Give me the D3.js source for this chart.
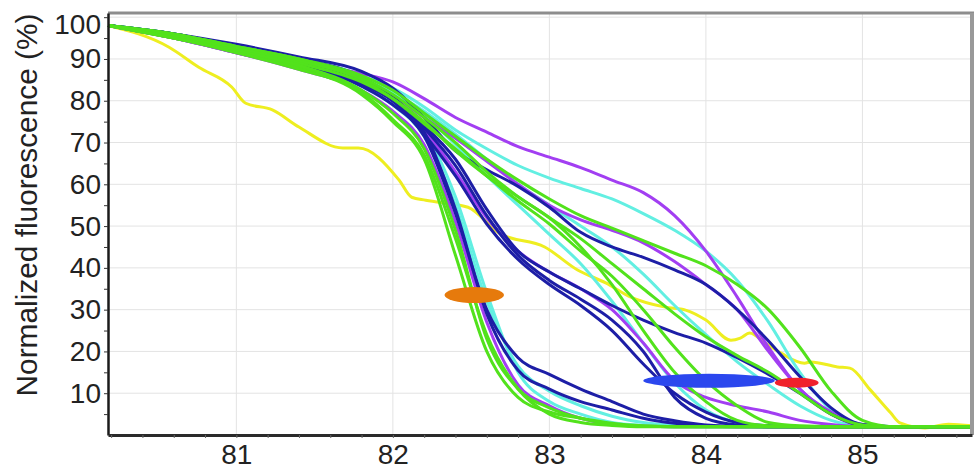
<!DOCTYPE html>
<html>
<head>
<meta charset="utf-8">
<script src="https://cdn.jsdelivr.net/npm/d3@7"></script>
<style>
  html, body { margin: 0; padding: 0; background: #fff; }
  svg { display: block; font-family: "Liberation Sans", Arial, sans-serif; }
</style>
</head>
<body>
<svg id="chart" width="974" height="469"></svg>
<script>
// Melt curves: normalized fluorescence vs temperature.

// Temperature grid shared by the melt curves.
const temps = [80.18, 80.6, 81.0, 81.4, 81.8, 82.0, 82.2, 82.4, 82.6, 82.8, 83.0, 83.2,
               83.4, 83.6, 83.8, 84.0, 84.2, 84.4, 84.6, 84.8, 85.0, 85.2, 85.4, 85.7];

// Each curve: colour group + values on the temps grid.
const curveColors = ["purple", "cyan", "green", "navy", "purple",
                     "navy", "navy", "navy", "purple",
                     "green", "green", "cyan", "cyan", "green",
                     "green", "green", "navy", "navy", "cyan", "cyan", "purple", "green"];

const curveValues = [
  // late melting group
  [98, 95, 92, 89, 86.5, 84.5, 80.5, 76, 72.5, 69, 66.5, 64, 61, 58, 52.5, 44, 33, 21, 11, 5.5, 2.5, 2, 2, 2],
  [98, 95.5, 92.5, 90, 86, 83, 78.5, 73, 68.5, 64.5, 61.5, 59, 56.5, 53, 49, 44, 37, 27, 15, 6, 2.5, 2, 2, 2],
  [98, 96, 93, 90, 86, 82.5, 77, 71.5, 66, 61, 56.5, 52.5, 49.5, 46.5, 43.5, 40.5, 36, 30, 21, 10.5, 3.5, 2, 2, 2],
  [98, 96, 93.5, 90.5, 87, 83, 76, 68, 63.5, 59.5, 54.5, 48.5, 45, 42.5, 39.5, 36, 30, 22.5, 14, 6.5, 2.5, 2, 2, 2],
  [98, 95, 91.5, 88, 84.5, 81, 76, 71, 65.5, 60, 55, 51.5, 49, 46, 41.5, 36, 30, 20, 11, 5, 2.3, 2, 2, 2],
  // shoulder group
  [98, 96, 93, 90, 85.5, 80, 74, 66, 54, 44, 39, 35, 31, 27.5, 24.5, 22, 18.5, 14.5, 10, 5, 2.3, 2, 2, 2],
  [98, 96, 93, 90, 85.5, 81, 73.5, 64.5, 52.5, 43, 37, 32.5, 27.5, 20, 9, 4, 2.4, 2, 2, 2, 2, 2, 2, 2],
  [98, 95.5, 92.5, 89, 84.5, 80, 72, 62, 50.5, 42, 36, 31, 25, 17, 10, 5.5, 3, 2.2, 2, 2, 2, 2, 2, 2],
  [98, 95, 91.5, 88, 84, 80, 73, 63, 52, 44, 39, 35, 30, 22, 13, 9, 7, 5.5, 3.5, 2.5, 2, 2, 2, 2],
  // middle group
  [98, 96, 93, 90, 85.5, 81.5, 76, 70, 63, 57, 52, 45, 36, 25, 15, 8, 3.5, 2.2, 2, 2, 2, 2, 2, 2],
  [98, 95.5, 92.5, 89.5, 85, 80.5, 74.5, 68.5, 62, 56, 50.5, 44, 38, 30, 21, 13, 7, 3, 2.2, 2, 2, 2, 2, 2],
  [98, 96, 93, 90, 86, 82, 76.5, 69.5, 62, 55, 48, 41, 32, 22, 12.5, 6, 3, 2.2, 2, 2, 2, 2, 2, 2],
  [98, 96, 93, 90, 86, 82, 77.5, 72, 66, 60, 55, 50, 45, 38.5, 31, 24, 17.5, 12, 7, 3.5, 2.2, 2, 2, 2],
  [98, 95.5, 92.5, 89, 84.5, 80.5, 75, 68, 62, 57, 52, 47, 41, 35, 29, 23.5, 19, 15, 10, 5, 2.4, 2, 2, 2],
  // early (steep) group
  [98, 95, 92, 88, 81.5, 75, 66, 43, 20, 9, 5.5, 4, 2.8, 2.2, 2, 2, 2, 2, 2, 2, 2, 2, 2, 2],
  [98, 95, 92, 88.5, 82.5, 77, 68.5, 49, 23, 11, 6.5, 4, 2.6, 2.1, 2, 2, 2, 2, 2, 2, 2, 2, 2, 2],
  [98, 95.5, 92.5, 89, 83.5, 79, 71.5, 53, 30, 18.5, 14.5, 11, 8, 5, 3.4, 2.4, 2.1, 2, 2, 2, 2, 2, 2, 2],
  [98, 95.5, 92.5, 89, 84, 80, 72.5, 54, 29, 15.5, 11, 8, 6, 4, 2.8, 2.2, 2, 2, 2, 2, 2, 2, 2, 2],
  [98, 95.5, 92.5, 89, 83.5, 79, 71.5, 55, 32, 16.5, 10.5, 7, 4.5, 3, 2.3, 2, 2, 2, 2, 2, 2, 2, 2, 2],
  [98, 96, 93, 89.5, 84.5, 81, 73, 57, 34, 15, 8, 5, 3, 2.3, 2, 2, 2, 2, 2, 2, 2, 2, 2, 2],
  [98, 95, 91.5, 87.5, 82.5, 77.5, 69.5, 51, 27, 12, 7, 4, 2.6, 2.1, 2, 2, 2, 2, 2, 2, 2, 2, 2, 2],
  [98, 95, 91.5, 87.5, 82, 75.5, 67, 47, 24, 11, 5, 3, 2.3, 2, 2, 2, 2, 2, 2, 2, 2, 2, 2, 2]
];

// The odd yellow trace has its own, finer sampling.
const yellowTemps = [80.18, 80.57, 80.76, 80.97, 81.06, 81.23, 81.4, 81.68, 81.78, 82.04, 82.12, 82.21,
                     82.48, 82.68, 82.97, 83.18, 83.36, 83.52, 83.74, 83.87, 84.0, 84.16, 84.22, 84.28,
                     84.38, 84.48, 84.63, 84.67, 84.84, 84.92, 85.05, 85.18, 85.24, 85.4, 85.55, 85.7];
const yellowValues = [98, 92.8, 88, 83.3, 79.4, 77.8, 73.7, 68.7, 68.7, 61, 56.9, 56.2,
                      54.5, 48.3, 45, 39.5, 36.4, 33, 30.6, 29.9, 27.5, 22.7, 23.2, 24.4,
                      22, 19.6, 17.2, 17.5, 16.3, 16, 10.8, 5.3, 2.9, 1.7, 2.6, 2.2];

// Highlight ellipses: centre temperature / value
const markerNames = ["orange", "blue", "red"];
const markerTemps = [82.52, 84.02, 84.58];
const markerValues = [33.5, 13, 12.5];

const palette = {
  purple: "#a23ef2",
  cyan: "#62efe2",
  green: "#52e21c",
  navy: "#1d1ea6",
  yellow: "#eeee20",
  orange: "#e67a0c",
  blue: "#2b47ee",
  red: "#f0222c"
};

const xTicks = [81, 82, 83, 84, 85];
const yTicks = [10, 20, 30, 40, 50, 60, 70, 80, 90, 100];

const svg = d3.select("#chart");
const plotLeft = 108, plotRight = 972, plotTop = 13, plotBottom = 435;

const x = d3.scaleLinear().domain([80.18, 85.7]).range([plotLeft, plotRight]);
const y = d3.scaleLinear().domain([0, 101]).range([plotBottom, plotTop]);

// grid
const grid = svg.append("g");
grid.selectAll(".vg").data(xTicks).join("line")
  .attr("x1", d => x(d)).attr("x2", d => x(d))
  .attr("y1", plotTop).attr("y2", plotBottom)
  .attr("stroke", "#e3e3e3").attr("stroke-width", 1);
grid.selectAll(".hg").data(yTicks).join("line")
  .attr("x1", plotLeft).attr("x2", plotRight)
  .attr("y1", d => y(d)).attr("y2", d => y(d))
  .attr("stroke", "#e3e3e3").attr("stroke-width", 1);

// curves
const plot = svg.append("g");
const line = d3.line()
  .x(d => x(d[0]))
  .y(d => y(d[1]))
  .curve(d3.curveMonotoneX);

plot.append("path")
  .datum(yellowTemps.map((t, i) => [t, yellowValues[i]]))
  .attr("d", line)
  .attr("fill", "none")
  .attr("stroke", palette.yellow)
  .attr("stroke-width", 3);

// paint order: greens end up on top of the bundle, like the original
const drawOrder = { cyan: 0, purple: 1, navy: 2, green: 3 };
const curves = curveValues.map((vals, i) => ({ color: curveColors[i], vals }))
  .sort((a, b) => drawOrder[a.color] - drawOrder[b.color]);

plot.selectAll(".curve")
  .data(curves)
  .join("path")
  .attr("class", "curve")
  .attr("d", c => line(temps.map((t, i) => [t, c.vals[i]])))
  .attr("fill", "none")
  .attr("stroke", c => palette[c.color])
  .attr("stroke-width", 3)
  .attr("stroke-linejoin", "round");

// markers
const markerRx = [0.19, 0.42, 0.14]; // in degrees
const markerRy = [8, 7, 5];           // in px
svg.append("g").selectAll("ellipse")
  .data(markerNames)
  .join("ellipse")
  .attr("cx", (d, i) => x(markerTemps[i]))
  .attr("cy", (d, i) => y(markerValues[i]))
  .attr("rx", (d, i) => x(markerTemps[i] + markerRx[i]) - x(markerTemps[i]))
  .attr("ry", (d, i) => markerRy[i])
  .attr("fill", d => palette[d]);

// frame: grey top / right borders
svg.append("line")
  .attr("x1", plotLeft).attr("x2", plotRight + 2)
  .attr("y1", plotTop).attr("y2", plotTop)
  .attr("stroke", "#8d8d8d").attr("stroke-width", 3);
svg.append("line")
  .attr("x1", plotRight).attr("x2", plotRight)
  .attr("y1", plotTop).attr("y2", plotBottom)
  .attr("stroke", "#999").attr("stroke-width", 4);

// axes
const yAxis = svg.append("g")
  .attr("transform", `translate(${plotLeft},0)`)
  .call(d3.axisLeft(y).tickValues(yTicks).tickSize(0).tickPadding(7));
yAxis.select(".domain").attr("stroke", "#1a1a1a").attr("stroke-width", 2.5);
yAxis.selectAll("text")
  .attr("font-size", 28)
  .attr("fill", "#222")
  .attr("font-family", "'Liberation Sans', Arial, sans-serif");
// the top label sits a little lower than its tick in the original
yAxis.selectAll(".tick").filter(d => d === 100).select("text").attr("y", 7);

svg.append("g")
  .attr("transform", `translate(${plotLeft},0)`)
  .call(d3.axisLeft(y).tickValues(d3.range(5, 101, 5)).tickSize(4).tickFormat(""))
  .call(g => g.select(".domain").remove())
  .selectAll("line").attr("stroke", "#333");

const xAxis = svg.append("g")
  .attr("transform", `translate(0,${plotBottom})`)
  .call(d3.axisBottom(x).tickValues(xTicks).tickSize(0).tickPadding(9).tickFormat(d3.format("d")));
xAxis.select(".domain").attr("stroke", "#2a2a2a").attr("stroke-width", 3);
xAxis.selectAll("text")
  .attr("font-size", 28)
  .attr("fill", "#222")
  .attr("font-family", "'Liberation Sans', Arial, sans-serif");

svg.append("g")
  .attr("transform", `translate(0,${plotBottom})`)
  .call(d3.axisBottom(x).tickValues(d3.range(80.2, 85.7, 0.2)).tickSize(3).tickFormat(""))
  .call(g => g.select(".domain").remove())
  .selectAll("line").attr("stroke", "#666");

// y title
svg.append("text")
  .attr("transform", "translate(37,205) rotate(-90)")
  .attr("text-anchor", "middle")
  .attr("font-size", 30)
  .attr("textLength", 383)
  .attr("lengthAdjust", "spacingAndGlyphs")
  .attr("fill", "#222")
  .text("Normalized fluorescence (%)");
</script>
</body>
</html>
